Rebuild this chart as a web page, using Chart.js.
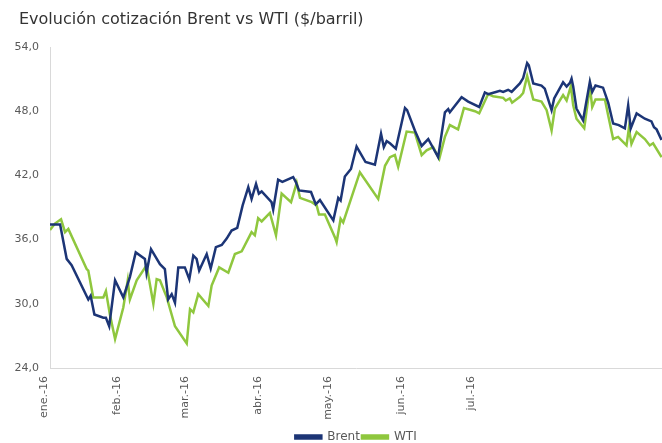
<!DOCTYPE html>
<html>
<head>
<meta charset="utf-8">
<script src="https://cdn.jsdelivr.net/npm/chart.js@4.4.1/dist/chart.umd.min.js"></script>
<style>
  html, body { margin: 0; padding: 0; background: #fff; }
  #wrap { position: relative; width: 662px; height: 443px; }
  #title {
    position: absolute; left: 19px; top: 9px;
    font-family: 'DejaVu Sans', Verdana, sans-serif; font-size: 16px; color: #333;
  }
</style>
</head>
<body>
<div id="wrap">
  <div id="title">Evolución cotización Brent vs WTI ($/barril)</div>
  <canvas id="oilChart"></canvas>
</div>
<script>
// month ticks (days since 1 Jan) and their labels
const monthDays = [0, 31, 60, 91, 121, 152, 182];
const monthLabels = ['ene.-16', 'feb.-16', 'mar.-16', 'abr.-16', 'may.-16', 'jun.-16', 'jul.-16'];
const yTicks = [24, 30, 36, 42, 48, 54];

// Brent (day, $/barril)
const brentDays = [0, 4.3, 7.1, 9.2, 16.3, 17.3, 18.9, 22.7, 23.8, 25.2, 27.7, 31.2, 34.0, 36.5, 40.4, 41.1, 43.0,
  46.8, 48.9, 50.3, 51.8, 53.2, 54.6, 57.4, 59.3, 61.0, 62.4, 63.5, 66.7, 68.4, 70.6, 73.1, 75.2, 77.3, 79.7,
  82.0, 84.4, 85.8, 87.7, 88.9, 90.1, 94.3, 95.0, 97.1, 98.9, 103.5, 104.6, 106.0, 111.1, 113.1, 114.9, 120.6,
  122.7, 123.7, 125.5, 128.1, 130.5, 134.3, 138.3, 140.9, 142.1, 143.3, 144.7, 147.2, 151.1, 152.0, 155.3,
  158.2, 161.0, 165.2, 168.1, 169.5, 170.2, 175.2, 178.0, 182.7, 185.1, 186.5, 189.8, 191.5, 192.9, 195.0,
  196.5, 200.0, 201.4, 203.1, 203.8, 205.7, 209.2, 210.6, 213.5, 214.6, 218.4, 219.9, 221.3, 222.0, 222.7,
  224.1, 226.9, 229.8, 230.8, 232.2, 235.4, 237.6, 239.7, 242.1, 244.7, 246.1, 247.2, 249.7, 253.2, 256.0,
  257.1, 258.2, 260.3];
const brentValues = [37.4, 37.4, 34.2, 33.6, 30.4, 30.75, 29.0, 28.7, 28.7, 27.9, 32.2, 30.6, 32.5, 34.8, 34.2, 32.9, 35.1,
  33.7, 33.25, 30.4, 30.9, 30.1, 33.4, 33.4, 32.3, 34.5, 34.2, 33.1, 34.65, 33.3, 35.3, 35.5, 36.1, 36.85, 37.1,
  39.2, 40.9, 39.8, 41.2, 40.3, 40.5, 39.5, 38.8, 41.6, 41.4, 41.85, 41.4, 40.6, 40.45, 39.3, 39.7, 37.8,
  39.9, 39.65, 41.9, 42.6, 44.7, 43.25, 43.0, 45.9, 44.65, 45.2, 45.0, 44.5, 48.3, 48.1, 46.2,
  44.75, 45.4, 43.7, 47.9, 48.2, 47.9, 49.3, 48.9, 48.4, 49.75, 49.6, 49.8, 49.9, 49.8, 50.0,
  49.8, 50.6, 51.1, 52.5, 52.3, 50.6, 50.4, 50.1, 48.1, 49.2, 50.7, 50.3, 50.65, 51.05, 50.3,
  48.25, 47.15, 50.75, 49.8, 50.4, 50.2, 48.8, 46.85, 46.7, 46.4, 48.55, 46.4, 47.8, 47.3, 47.05,
  46.5, 46.3, 45.3];

// WTI (day, $/barril)
const wtiDays = [0, 2.1, 4.7, 6.4, 7.8, 15.6, 16.3, 18.4, 22.7, 23.8, 25.5, 27.7, 31.2, 33.1, 34.0, 36.9, 41.1,
  44.0, 45.4, 46.8, 49.7, 53.2, 58.2, 59.6, 61.0, 63.1, 67.4, 68.8, 72.0, 75.9, 78.7, 81.6, 85.8, 87.2, 88.6,
  90.1, 93.6, 96.2, 98.6, 102.6, 105.0, 106.4, 111.4, 113.5, 114.5, 117.0, 121.3, 122.0, 123.7, 124.8, 131.9,
  139.7, 142.6, 144.7, 146.8, 148.2, 151.8, 155.3, 158.2, 160.3, 163.1, 165.7, 168.1, 170.2, 173.7, 176.2,
  180.9, 182.7, 186.5, 188.6, 192.9, 194.0, 195.7, 196.7, 200.0, 201.4, 203.1, 205.7, 209.2, 211.4, 213.5,
  214.9, 218.4, 219.9, 221.7, 222.7, 224.1, 227.4, 229.8, 230.8, 232.2, 236.2, 237.6, 239.7, 241.8, 245.4,
  246.4, 247.5, 249.7, 253.2, 255.3, 256.7, 260.3];
const wtiValues = [36.9, 37.5, 37.9, 36.7, 37.0, 33.25, 33.1, 30.6, 30.6, 31.2, 29.0, 26.7, 29.65, 32.2, 30.4, 32.2, 33.6,
  30.0, 32.3, 32.2, 30.6, 27.9, 26.3, 29.5, 29.2, 30.9, 29.8, 31.7, 33.4, 32.9, 34.65, 34.9, 36.7, 36.4, 38.0,
  37.7, 38.5, 36.4, 40.3, 39.5, 41.3, 39.9, 39.5, 39.2, 38.35, 38.35, 36.2, 35.75, 37.95, 37.6, 42.3,
  39.8, 42.9, 43.7, 43.9, 42.8, 46.1, 46.0, 43.9, 44.35, 44.65, 43.55, 45.6, 46.7, 46.3, 48.3,
  48.0, 47.8, 49.6, 49.4, 49.25, 49.0, 49.2, 48.8, 49.35, 49.7, 51.3, 49.1, 48.9, 48.1, 46.2,
  48.25, 49.5, 49.0, 50.35, 48.55, 47.3, 46.4, 50.3, 48.4, 49.1, 49.1, 47.6, 45.4, 45.6, 44.8,
  46.4, 44.95, 46.05, 45.4, 44.8, 45.0, 43.7];

const toPoints = (xs, ys) => xs.map((x, i) => ({ x: x, y: ys[i] }));

const font = { family: "'DejaVu Sans', Verdana, sans-serif", size: 11 };

new Chart(document.getElementById('oilChart'), {
  type: 'line',
  data: {
    datasets: [
      {
        label: 'Brent',
        data: toPoints(brentDays, brentValues),
        borderColor: '#1c3576',
        backgroundColor: '#1c3576',
        borderWidth: 2.5,
        pointRadius: 0,
        tension: 0
      },
      {
        label: 'WTI',
        data: toPoints(wtiDays, wtiValues),
        borderColor: '#8fc73e',
        backgroundColor: '#8fc73e',
        borderWidth: 2.5,
        pointRadius: 0,
        tension: 0
      }
    ]
  },
  options: {
    responsive: true,
    maintainAspectRatio: false,
    animation: false,
    // negative bottom padding pushes the legend's built-in bottom gap off the canvas
    layout: { padding: { top: 47, left: 0, right: 0, bottom: -10 } },
    scales: {
      x: {
        type: 'linear',
        min: 0,
        max: 260.5,
        grid: { display: false, drawTicks: false },
        border: { display: true, color: '#d9d9d9' },
        afterBuildTicks: s => { s.ticks = monthDays.map(v => ({ value: v })); },
        afterFit: s => { s.height = 61; },
        ticks: {
          autoSkip: false,
          maxRotation: 90,
          minRotation: 90,
          labelOffset: -6,
          padding: 8,
          color: '#595959',
          font: font,
          callback: v => monthLabels[monthDays.indexOf(v)]
        }
      },
      y: {
        min: 24,
        max: 54,
        grid: { display: false, drawTicks: false },
        border: { display: true, color: '#d9d9d9' },
        afterBuildTicks: s => { s.ticks = yTicks.map(v => ({ value: v })); },
        afterFit: s => { s.width = 50; },
        ticks: {
          padding: 11,
          color: '#595959',
          font: font,
          callback: v => v.toFixed(1).replace('.', ',')
        }
      }
    },
    plugins: {
      legend: {
        position: 'bottom',
        fullSize: false,
        labels: {
          boxWidth: 26,
          boxHeight: 3,
          padding: 2,
          color: '#595959',
          font: { family: font.family, size: 12 }
        }
      },
      tooltip: { enabled: false }
    }
  }
});
</script>
</body>
</html>
